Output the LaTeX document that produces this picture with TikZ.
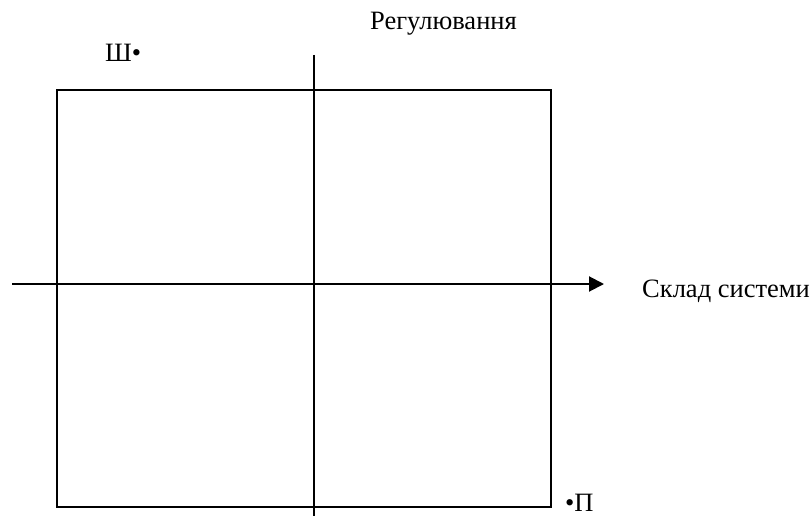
\documentclass[tikz,border=0pt]{standalone}
\usepackage{fontspec}
\setmainfont{Liberation Serif}
\usetikzlibrary{arrows.meta}
\tikzset{
  axis/.style={line width=2pt},
  lbl/.style={inner sep=0pt, anchor=base west, font=\fontsize{26.5}{30}\selectfont},
}
\begin{document}
\begin{tikzpicture}[x=1pt,y=-1pt]
        \useasboundingbox (0,0) rectangle (811,516);
        \draw[axis] (57,90) rectangle (551,507) ;
        \coordinate (vtop) at (314,55) ;
        \coordinate (vbot) at (314,516) ;
        \coordinate (hleft) at (12,284) ;
        \coordinate (hright) at (604,284) ;
        \draw[axis] (vtop) -- (vbot) ;
        \draw[axis, -{Triangle[length=15pt, width=15pt]}] (hleft) -- (hright) ;
        \node[lbl] (reg) at (370,30) {Регулювання} ;
        \node[lbl] (sklad) at (642,297) {Склад системи} ;
        \node[lbl] (sh) at (105,62) {Ш•} ;
        \node[lbl] (p) at (565,511) {•П} ;
\end{tikzpicture}
\end{document}
